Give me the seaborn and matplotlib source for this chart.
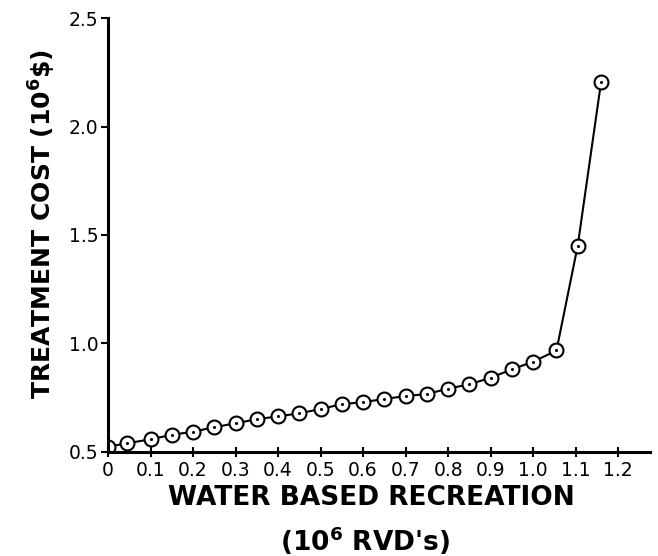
import numpy as np
import pandas as pd
import matplotlib
matplotlib.use("Agg")
import matplotlib.pyplot as plt
import seaborn as sns

# Water based recreation (10^6 RVD's) and treatment cost (10^6 $)
recreation = [0.00, 0.045, 0.10, 0.15, 0.20, 0.25, 0.30, 0.35, 0.40, 0.45,
              0.50, 0.55, 0.60, 0.65, 0.70, 0.75, 0.80, 0.85, 0.90, 0.95,
              1.00, 1.055, 1.105, 1.16]
cost = [0.523, 0.539, 0.557, 0.578, 0.592, 0.613, 0.631, 0.650, 0.663, 0.677,
        0.697, 0.719, 0.729, 0.743, 0.757, 0.766, 0.791, 0.811, 0.841, 0.880,
        0.915, 0.967, 1.451, 2.207]

x_ticks = [0.0, 0.1, 0.2, 0.3, 0.4, 0.5, 0.6, 0.7, 0.8, 0.9, 1.0, 1.1, 1.2]
x_tick_labels = ["0", "0.1", "0.2", "0.3", "0.4", "0.5", "0.6", "0.7",
                 "0.8", "0.9", "1.0", "1.1", "1.2"]
y_ticks = [0.5, 1.0, 1.5, 2.0, 2.5]
y_tick_labels = ["0.5", "1.0", "1.5", "2.0", "2.5"]

df = pd.DataFrame({"recreation": recreation, "cost": cost})

sns.set_style("ticks")
plt.rcParams["font.family"] = ["DejaVu Sans"]
plt.rcParams["text.color"] = "black"
plt.rcParams["axes.labelcolor"] = "black"

fig = plt.figure(figsize=(6.58, 5.56), dpi=100)
ax = fig.add_axes([108 / 658, 0.1876, (650 - 108) / 658, 0.7795])

sns.lineplot(data=df, x="recreation", y="cost", ax=ax, color="black",
             linewidth=1.5, marker="o", markersize=10,
             markerfacecolor="white", markeredgecolor="black",
             markeredgewidth=1.5)
sns.scatterplot(data=df, x="recreation", y="cost", ax=ax, color="black",
                s=5, linewidth=0, zorder=5)

ax.set_xlim(0, 1.275)
ax.set_ylim(0.5, 2.5)
ax.set_xticks(x_ticks)
ax.set_xticklabels(x_tick_labels)
ax.set_yticks(y_ticks)
ax.set_yticklabels(y_tick_labels)

sns.despine(ax=ax)
for side in ("left", "bottom"):
    ax.spines[side].set_linewidth(2.2)
    ax.spines[side].set_color("black")

ax.tick_params(axis="x", direction="inout", length=7, width=1.5,
               labelsize=13.5, pad=3, colors="black")
ax.tick_params(axis="y", direction="out", length=5, width=1.5,
               labelsize=13.5, pad=2, colors="black")

ax.set_xlabel("")
ax.set_ylabel("TREATMENT COST (10$^{\\mathbf{6}}$\\$)", fontsize=18,
              fontweight="bold", labelpad=8, color="black")
ax.yaxis.label.set_y(0.525)
fig.text(0.565, 0.105, "WATER BASED RECREATION", ha="center", va="center",
         fontsize=19, fontweight="bold", color="black")
fig.text(0.555, 0.028, "(10$^{\\mathbf{6}}$ RVD's)", ha="center", va="center",
         fontsize=19, fontweight="bold", color="black")

fig.savefig("out.png", dpi=100, facecolor="white")
